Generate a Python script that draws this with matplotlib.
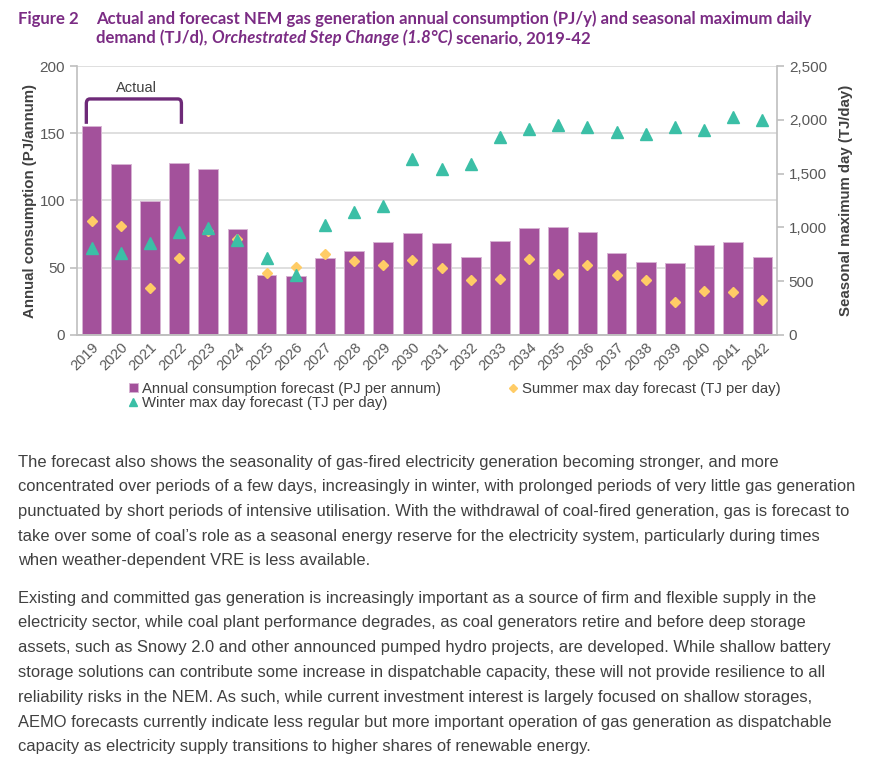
import matplotlib
matplotlib.use("Agg")
from matplotlib import pyplot as plt
from matplotlib.path import Path
from matplotlib import patches

# Data
years = [str(y) for y in range(2019, 2043)]
annual_pj = [155.3, 126.8, 99.9, 127.8, 123.1, 79.1, 44.5, 44.0, 57.1, 62.8, 69.2, 75.9,
             68.5, 58.1, 70.0, 79.9, 80.3, 76.4, 61.1, 54.6, 53.6, 66.7, 69.2, 58.1]
summer_tj = [1063, 1017, 436, 717, 970, 890, 572, 633, 757, 686, 652, 695,
             624, 510, 522, 705, 569, 655, 553, 507, 303, 411, 399, 324]
winter_tj = [806, 766, 853, 955, 998, 884, 720, 553, 1023, 1140, 1202, 1635,
             1539, 1588, 1842, 1916, 1950, 1934, 1885, 1866, 1931, 1907, 2030, 2002]

left_ticks = [0, 50, 100, 150, 200]
right_ticks = [0, 500, 1000, 1500, 2000, 2500]

para1 = [
    "The forecast also shows the seasonality of gas-fired electricity generation becoming stronger, and more",
    "concentrated over periods of a few days, increasingly in winter, with prolonged periods of very little gas generation",
    "punctuated by short periods of intensive utilisation. With the withdrawal of coal-fired generation, gas is forecast to",
    "take over some of coal\u2019s role as a seasonal energy reserve for the electricity system, particularly during times",
    "when weather-dependent VRE is less available.",
]
para2 = [
    "Existing and committed gas generation is increasingly important as a source of firm and flexible supply in the",
    "electricity sector, while coal plant performance degrades, as coal generators retire and before deep storage",
    "assets, such as Snowy 2.0 and other announced pumped hydro projects, are developed. While shallow battery",
    "storage solutions can contribute some increase in dispatchable capacity, these will not provide resilience to all",
    "reliability risks in the NEM. As such, while current investment interest is largely focused on shallow storages,",
    "AEMO forecasts currently indicate less regular but more important operation of gas generation as dispatchable",
    "capacity as electricity supply transitions to higher shares of renewable energy.",
]

PURPLE = "#A3519B"
YELLOW = "#FFCC66"
TEAL = "#3BBFA6"
TITLE = "#7B2C84"
GREY = "#404040"
TICK = "#595959"
GRID = "#D9D9D9"

plt.rcParams["font.family"] = ["Liberation Sans", "DejaVu Sans"]

fig = plt.figure(figsize=(8.82, 7.62), dpi=100)
ax = fig.add_axes([77 / 882, 1 - 335 / 762, 700 / 882, 269 / 762])
ax2 = ax.twinx()

x = list(range(len(years)))
ax.bar(x, annual_pj, width=0.67, color=PURPLE, edgecolor="#D7B3D3", linewidth=0.7, zorder=2,
       label="Annual consumption forecast (PJ per annum)")
ax.set_xlim(-0.5, len(years) - 0.5)
ax.set_ylim(0, 200)
ax.set_yticks(left_ticks)
ax.grid(axis="y", color=GRID, linewidth=1.2, zorder=0)
ax.set_axisbelow(True)

ax2.plot(x, summer_tj, linestyle="none", marker="D", markersize=5.2, color=YELLOW,
         label="Summer max day forecast (TJ per day)", zorder=3)
ax2.plot(x, winter_tj, linestyle="none", marker="^", markersize=8, color=TEAL,
         label="Winter max day forecast (TJ per day)", zorder=3)
ax2.set_ylim(0, 2500)
ax2.set_yticks(right_ticks)
ax2.set_yticklabels([f"{v:,}" for v in right_ticks])

for a in (ax, ax2):
    for side in ("left", "right", "bottom"):
        a.spines[side].set_color("#BFBFBF")
        a.spines[side].set_linewidth(1.2)
    a.spines["top"].set_visible(False)
    a.tick_params(axis="y", colors="#BFBFBF", labelcolor=TICK, labelsize=11, length=5, width=1.2)
ax.spines["right"].set_visible(False)
ax2.spines["left"].set_visible(False)

ax.set_xticks(x)
ax.set_xticklabels(years, rotation=45, ha="right", rotation_mode="anchor")
ax.tick_params(axis="x", length=0, labelsize=10.5, labelcolor=TICK, pad=4)

ax.set_ylabel("Annual consumption (PJ/annum)", fontsize=10.8, fontweight="bold", color=GREY, labelpad=2)
ax2.set_ylabel("Seasonal maximum day (TJ/day)", fontsize=10.8, fontweight="bold", color=GREY, labelpad=9)

# "Actual" bracket
x0, x1, yb, yt, rx, ry = -0.18, 3.08, 157, 175.5, 0.12, 3.5
verts = [(x0, yb), (x0, yt - ry), (x0, yt), (x0 + rx, yt), (x1 - rx, yt), (x1, yt), (x1, yt - ry), (x1, yb)]
codes = [Path.MOVETO, Path.LINETO, Path.CURVE3, Path.CURVE3, Path.LINETO, Path.CURVE3, Path.CURVE3, Path.LINETO]
ax.add_patch(patches.PathPatch(Path(verts, codes), fill=False, edgecolor="#6E2A78", linewidth=2.4, zorder=4))
ax.text(1.54, 184, "Actual", ha="center", va="center", fontsize=10.5, color=GREY)

# legend
h1, l1 = ax.get_legend_handles_labels()
h2, l2 = ax2.get_legend_handles_labels()
handles = [h1[0], h2[1], h2[0]]
labels = [l1[0], l2[1], l2[0]]
fig.legend(handles, labels, ncol=2, loc="upper left", bbox_to_anchor=(129 / 882, 1 - 382 / 762),
           frameon=False, fontsize=10.7, handlelength=0.6, handleheight=0.6, handletextpad=0.25,
           columnspacing=4.6, labelspacing=0.0, labelcolor=GREY, borderpad=0, borderaxespad=0,
           markerscale=0.7)

# title
tkw = dict(fontsize=12.1, fontweight="bold", color=TITLE, family="Lato", va="center")
fig.text(18 / 882, 1 - 19 / 762, "Figure 2", **tkw)
fig.text(96 / 882, 1 - 19 / 762,
         "Actual and forecast NEM gas generation annual consumption (PJ/y) and seasonal maximum daily", **tkw)
t1 = fig.text(96 / 882, 1 - 38 / 762, "demand (TJ/d), ", **tkw)
t2 = ax.annotate("Orchestrated Step Change (1.8\u00b0C)", xy=(1, 0), xycoords=t1, va="bottom",
                 fontsize=12.1, fontweight="bold", style="italic", color=TITLE, family="Lato")
ax.annotate(" scenario, 2019-42", xy=(1, 0), xycoords=t2, va="bottom",
            fontsize=12.1, fontweight="bold", color=TITLE, family="Lato")

# body text
for i, line in enumerate(para1):
    fig.text(18 / 882, 1 - (462 + i * 24.7) / 762, line, fontsize=11.9, color=GREY, va="center")
for i, line in enumerate(para2):
    fig.text(18 / 882, 1 - (598 + i * 24.8) / 762, line, fontsize=11.9, color=GREY, va="center")

fig.savefig("out.png", dpi=100)
